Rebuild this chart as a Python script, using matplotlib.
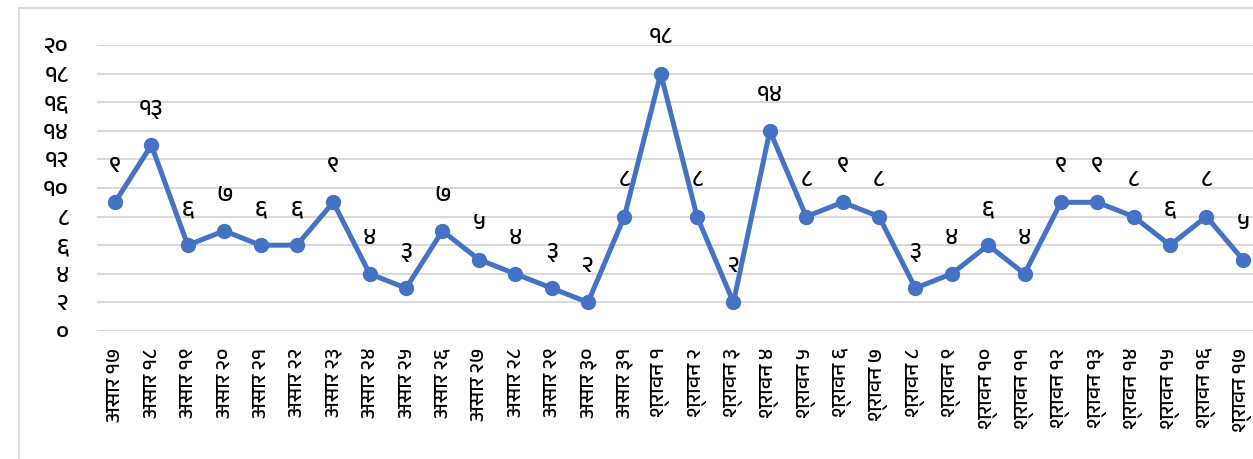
import matplotlib
matplotlib.use("Agg")
import matplotlib.pyplot as plt
from matplotlib import font_manager
from matplotlib.patches import Rectangle

# find an installed font that has Devanagari glyphs
def find_devanagari_font():
    from fontTools.ttLib import TTFont
    best = None
    for f in font_manager.fontManager.ttflist:
        try:
            tt = TTFont(f.fname, fontNumber=0, lazy=True)
            cmap = tt.getBestCmap() or {}
        except Exception:
            continue
        if 0x0905 in cmap and 0x0967 in cmap:
            if 'devanagari' in f.name.lower() or 'nirmala' in f.name.lower():
                return f.name
            if best is None:
                best = f.name
    return best

dev_font = find_devanagari_font()
families = [dev_font, 'DejaVu Sans'] if dev_font else ['DejaVu Sans']
plt.rcParams['font.family'] = families

ashar_days = ['१७', '१८', '१९', '२०', '२१', '२२', '२३', '२४', '२५', '२६',
              '२७', '२८', '२९', '३०', '३१']
shrawan_days = ['१', '२', '३', '४', '५', '६', '७', '८', '९', '१०',
                '११', '१२', '१३', '१४', '१५', '१६', '१७']
categories = ['असार ' + d for d in ashar_days] + ['श्रावन ' + d for d in shrawan_days]

values = [9, 13, 6, 7, 6, 6, 9, 4, 3, 7, 5, 4, 3, 2, 8,
          18, 8, 2, 14, 8, 9, 8, 3, 4, 6, 4, 9, 9, 8, 6, 8, 5]

dev_digits = '०१२३४५६७८९'
def to_dev(n):
    return ''.join(dev_digits[int(c)] for c in str(n))

yticks = list(range(0, 21, 2))

W, H = 1253, 459
fig = plt.figure(figsize=(W / 100, H / 100), dpi=100)
fig.patch.set_facecolor('white')

# chart area frame (cut off on the right and bottom)
fig.patches.append(Rectangle((19 / W, -0.1), 1.2, (H - 8) / H + 0.1,
                             transform=fig.transFigure, fill=False,
                             edgecolor='#D9D9D9', linewidth=1.5))

ax = fig.add_axes([96.8 / W, 128 / H, (1261 - 96.8) / W, 286 / H])
x = list(range(len(values)))
ax.plot(x, values, color='#4472C4', linewidth=3.6, marker='o',
        markersize=10, solid_capstyle='round', zorder=3, clip_on=False)

for xi, v in zip(x, values):
    ax.annotate(to_dev(v), (xi, v), xytext=(0, 26), textcoords='offset points',
                ha='center', va='center', fontsize=17, color='black')

ax.set_xlim(-0.5, len(values) - 0.5)
ax.set_ylim(0, 20)
ax.set_yticks(yticks)
ax.set_yticklabels([to_dev(t) for t in yticks], fontsize=17)
ax.set_xticks(x)
ax.set_xticklabels(categories, rotation=90, fontsize=15)
ax.tick_params(axis='both', length=0)
ax.tick_params(axis='y', pad=20)
ax.tick_params(axis='x', pad=12)
ax.grid(axis='y', color='#D9D9D9', linewidth=1.5)
ax.set_axisbelow(True)
for s in ax.spines.values():
    s.set_visible(False)

fig.savefig('out.png', dpi=100)
